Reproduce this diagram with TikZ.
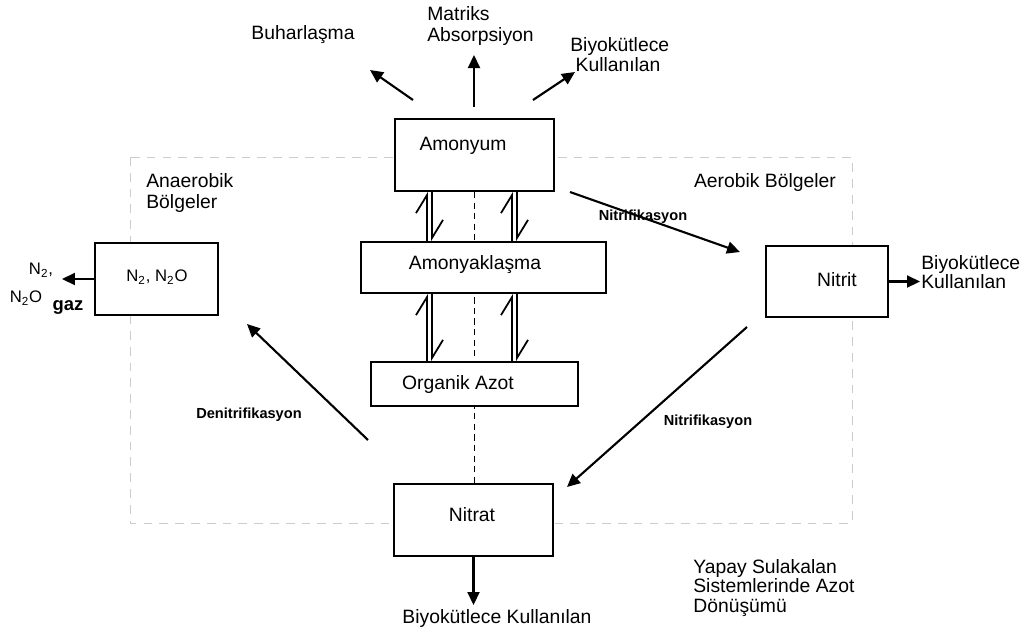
\documentclass[tikz,border=0pt]{standalone}
\usepackage{fontspec}
\setmainfont{Liberation Sans}
\usetikzlibrary{arrows.meta,positioning,backgrounds}

\begin{document}
\begin{tikzpicture}[
    x=0.02cm, y=-0.02cm,
    box/.style={rectangle, draw, line width=1.1pt, fill=white, inner sep=0pt},
    txt/.style={font=\fontsize{11}{12.5}\selectfont, inner sep=0pt, align=left},
    proc/.style={font=\bfseries\fontsize{8.3}{9}\selectfont, inner sep=0pt},
    arrow/.style={-{Triangle[length=2.6mm, width=2.4mm]}, line width=1.2pt},
    harp/.style={-{Straight Barb[harpoon, length=3.6mm, width=4.4mm, line width=1pt]}, line width=1pt},
    zone/.style={draw=gray!40, line width=0.5pt, dash pattern=on 5pt off 4pt},
    midline/.style={line width=0.9pt, dash pattern=on 3.5pt off 2.5pt}
]
    \useasboundingbox (0,0) rectangle (1029,630);

    % boxes
    \node[box, minimum width=3.18cm, minimum height=1.44cm] (amonyum) at (474.5,155) {};
    \node[box, minimum width=4.9cm, minimum height=1.02cm] (amonyak) at (483.5,267.5) {};
    \node[box, minimum width=4.14cm, minimum height=0.88cm] (organik) at (474.5,384) {};
    \node[box, minimum width=3.18cm, minimum height=1.44cm] (nitrat) at (473.5,520) {};
    \node[box, minimum width=2.46cm, minimum height=1.44cm] (gazbox) at (156.5,279) {};
    \node[box, minimum width=2.44cm, minimum height=1.42cm] (nitrit) at (827,281.5) {};

    \node[txt] (amonyumtxt) at (463,146) {Amonyum};
    \node[txt] (amonyaktxt) at (475,265) {Amonyaklaşma};
    \node[txt] (organiktxt) at (458,384) {Organik Azot};
    \node[txt] (nitrattxt) at (472,515) {Nitrat};
    \node[txt, font=\fontsize{9.5}{11}\selectfont] (gazboxtxt) at (157,277) {N\textsubscript{2}, N\textsubscript{2}O};
    \node[txt] (nitrittxt) at (837,280) {Nitrit};

    \begin{pgfonlayer}{background}
        \draw[zone] (130,157) rectangle (852,523);
        \draw[midline] (amonyum.south) -- (amonyum.south |- nitrat.north);
    \end{pgfonlayer}

    % reversible steps
    \coordinate (up1) at (427,0);
    \coordinate (dn1) at (432,0);
    \coordinate (up2) at (512,0);
    \coordinate (dn2) at (517,0);
    \draw[harp] (amonyak.north -| up1) -- (amonyum.south -| up1);
    \draw[harp] (amonyum.south -| dn1) -- (amonyak.north -| dn1);
    \draw[harp] (amonyak.north -| up2) -- (amonyum.south -| up2);
    \draw[harp] (amonyum.south -| dn2) -- (amonyak.north -| dn2);
    \draw[harp] (organik.north -| up1) -- (amonyak.south -| up1);
    \draw[harp] (amonyak.south -| dn1) -- (organik.north -| dn1);
    \draw[harp] (organik.north -| up2) -- (amonyak.south -| up2);
    \draw[harp] (amonyak.south -| dn2) -- (organik.north -| dn2);

    % losses from Amonyum
    \coordinate (buhar0) at (413,100);
    \coordinate (buhar1) at (370,70);
    \coordinate (matris0) at (474,107);
    \coordinate (matris1) at (474,55);
    \coordinate (biyo0) at (533,100);
    \coordinate (biyo1) at (575,72);
    \draw[arrow] (buhar0) -- (buhar1);
    \draw[arrow] (matris0) -- (matris1);
    \draw[arrow] (biyo0) -- (biyo1);
    \node[txt] (buhartxt) at (303,35) {Buharlaşma};
    \node[txt, anchor=west] (matristxt) at (427,26) {Matriks\\Absorpsiyon};
    \node[txt, anchor=west, font=\fontsize{11}{11.4}\selectfont] (biyotxt) at (570,55) {Biyokütlece\\\hspace*{3pt}Kullanılan};

    % nitrification / denitrification
    \coordinate (nit0) at (570,192);
    \coordinate (nit1) at (740,252);
    \coordinate (nitb0) at (747,327);
    \coordinate (nitb1) at (567,487);
    \coordinate (den0) at (368,440);
    \coordinate (den1) at (247,324);
    \draw[arrow] (nit0) -- (nit1);
    \draw[arrow] (nitb0) -- (nitb1);
    \draw[arrow] (den0) -- (den1);
    \node[proc] (nittxt) at (643,217) {Nitrifikasyon};
    \node[proc] (nitbtxt) at (708,422) {Nitrifikasyon};
    \node[proc] (dentxt) at (249,415) {Denitrifikasyon};

    % outputs
    \coordinate (gazend) at (62,279);
    \coordinate (nitritend) at (920,281.5);
    \coordinate (nitratend) at (nitrat.south |- 0,605);
    \draw[arrow] (gazbox.west) -- (gazend);
    \draw[arrow] (nitrit.east) -- (nitritend);
    \draw[arrow] (nitrat.south) -- (nitratend);
    \node[txt, font=\fontsize{9.5}{11}\selectfont] (gaz1) at (41,270) {N\textsubscript{2},};
    \node[txt, font=\fontsize{9.5}{11}\selectfont] (gaz2) at (26,298) {N\textsubscript{2}O};
    \node[txt, font=\bfseries\fontsize{10.5}{12}\selectfont] (gaz3) at (68,307) {gaz};
    \node[txt, anchor=west, font=\fontsize{11}{11}\selectfont] (nitritout) at (921,272) {Biyokütlece\\Kullanılan};
    \node[txt] (nitratout) at (497,618) {Biyokütlece Kullanılan};

    % zones
    \node[txt, anchor=west, font=\fontsize{11}{11.4}\selectfont] (anaer) at (146,193) {Anaerobik\\Bölgeler};
    \node[txt] (aer) at (765,182) {Aerobik Bölgeler};
    \node[txt, anchor=west, font=\fontsize{11}{11.2}\selectfont] (baslik) at (693,588) {Yapay Sulakalan\\Sistemlerinde Azot\\Dönüşümü};
\end{tikzpicture}
\end{document}
